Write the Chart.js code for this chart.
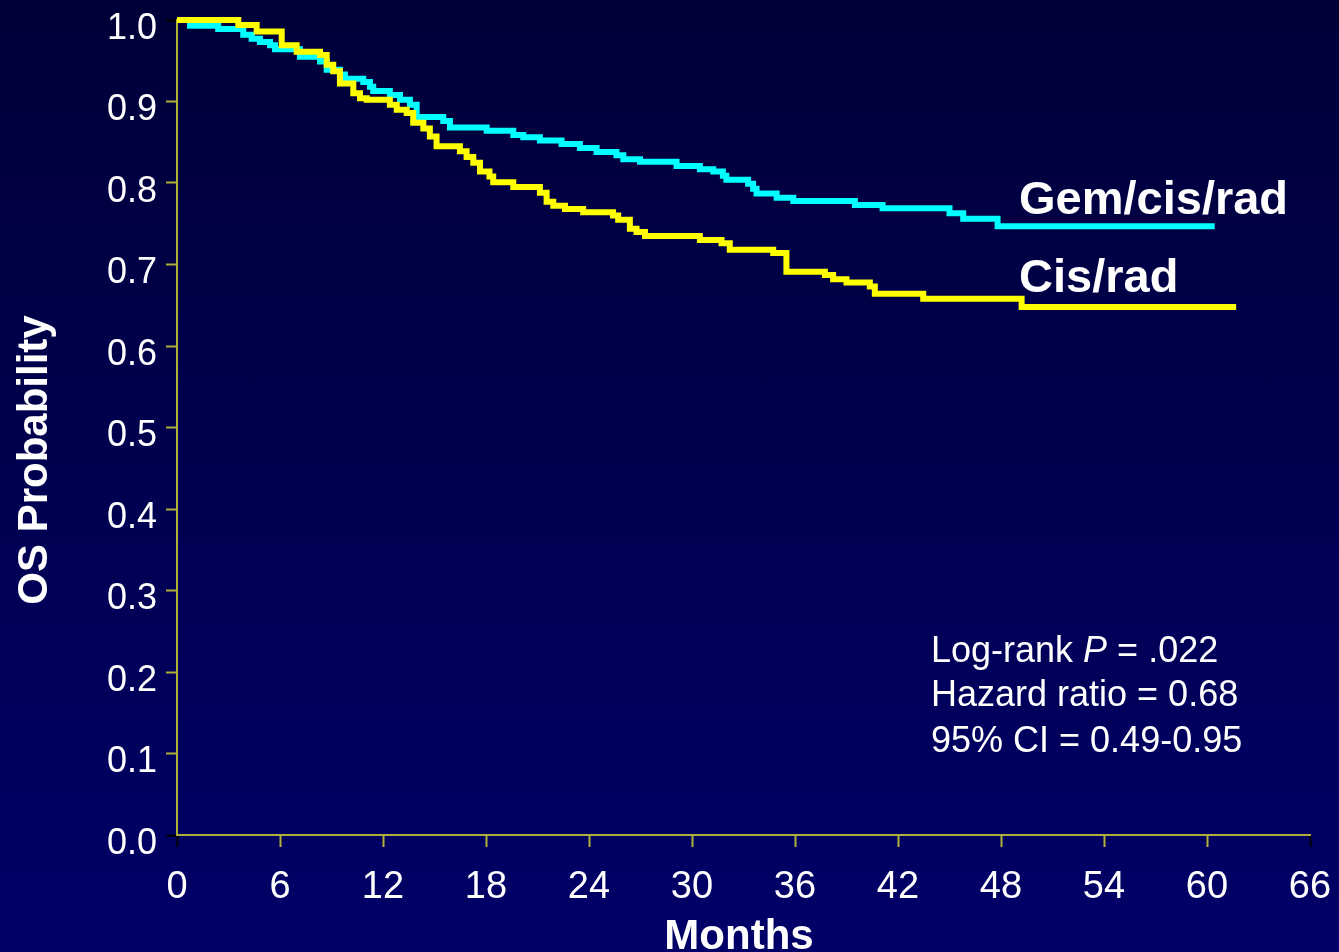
<!DOCTYPE html>
<html>
<head>
<meta charset="utf-8">
<script src="https://cdn.jsdelivr.net/npm/chart.js@4/dist/chart.umd.min.js"></script>
<style>
  html, body { margin: 0; padding: 0; }
  body { background: linear-gradient(to bottom, #000038, #000068); }
  #wrap { position: relative; width: 1339px; height: 952px; }
</style>
</head>
<body>
<div id="wrap"><canvas id="km-chart"></canvas></div>
<script>
// axis ticks
const xTicks = [0, 6, 12, 18, 24, 30, 36, 42, 48, 54, 60, 66]
const yTicks = [0, 0.1, 0.2, 0.3, 0.4, 0.5, 0.6, 0.7, 0.8, 0.9, 1.0]

// Gem/cis/rad arm: months and survival after each step
const gemMonths = [0, 0.76, 2.4, 3.86, 4.35, 4.83, 5.42, 5.71, 7.16, 8.33, 8.72, 9.49, 9.78, 10.85, 11.24, 11.43,
    12.4, 12.99, 13.57, 13.96, 15.51, 15.9, 18.04, 19.59, 20.17, 21.14, 22.4, 23.47, 24.44, 25.6, 26.0, 26.97,
    29.1, 30.46, 31.24, 31.8, 32.0, 33.27, 33.56, 33.76, 34.93, 35.9, 39.49, 41.1, 45.0, 45.8, 47.8, 60.45]
const gemSurv = [1.0, 0.993, 0.989, 0.982, 0.977, 0.973, 0.969, 0.964, 0.955, 0.949, 0.939, 0.933, 0.928, 0.924, 0.918, 0.913,
    0.908, 0.902, 0.896, 0.881, 0.876, 0.868, 0.864, 0.859, 0.856, 0.852, 0.848, 0.843, 0.838, 0.834, 0.829, 0.826,
    0.821, 0.817, 0.814, 0.809, 0.804, 0.799, 0.793, 0.787, 0.782, 0.778, 0.773, 0.769, 0.763, 0.756, 0.747, 0.747]

// Cis/rad arm
const cisMonths = [0, 3.57, 4.64, 6.1, 6.97, 8.33, 8.72, 9.1, 9.49, 10.27, 10.66, 11.05, 12.4, 12.8, 13.38, 13.76,
    14.35, 14.73, 15.12, 16.48, 16.87, 17.26, 17.65, 18.2, 18.42, 19.59, 21.14, 21.53, 21.92, 22.6, 23.66, 25.4,
    25.7, 26.38, 26.77, 27.26, 30.46, 31.72, 32.2, 34.73, 35.5, 37.74, 38.22, 39.0, 40.36, 40.65, 43.47, 49.2, 61.7]
const cisSurv = [1.0, 0.994, 0.986, 0.969, 0.961, 0.957, 0.945, 0.937, 0.922, 0.910, 0.904, 0.902, 0.896, 0.890, 0.886, 0.874,
    0.867, 0.857, 0.845, 0.839, 0.832, 0.825, 0.814, 0.808, 0.801, 0.795, 0.788, 0.777, 0.772, 0.768, 0.764, 0.760,
    0.755, 0.744, 0.740, 0.735, 0.730, 0.726, 0.718, 0.714, 0.691, 0.687, 0.682, 0.678, 0.673, 0.664, 0.658, 0.648, 0.648]

const statLines = ['Log-rank ', 'Hazard ratio = 0.68', '95% CI = 0.49-0.95']

function toPoints(months, surv) {
    return months.map((m, i) => ({ x: m, y: surv[i] }))
}

const FONT = '"Liberation Sans", Arial, sans-serif'
const AXIS = '#b0b038'

function tickColor(ctx) {
    const n = ctx.scale.ticks.length
    return (ctx.index === 0 || ctx.index === n - 1) ? '#000000' : AXIS
}

// titles and annotations drawn on top of the chart
const textPlugin = {
    id: 'texts',
    afterDraw(chart) {
        const ctx = chart.ctx
        ctx.save()
        ctx.fillStyle = '#ffffff'
        ctx.textBaseline = 'alphabetic'

        // axis titles
        ctx.font = 'bold 42px ' + FONT
        ctx.textAlign = 'center'
        ctx.fillText('Months', 739, 949)
        ctx.save()
        ctx.translate(47, 460)
        ctx.rotate(-Math.PI / 2)
        ctx.fillText('OS Probability', 0, 0)
        ctx.restore()

        // series labels
        ctx.textAlign = 'left'
        ctx.font = 'bold 47px ' + FONT
        ctx.fillText('Gem/cis/rad', 1019, 214)
        ctx.fillText('Cis/rad', 1019, 292)

        // stats
        ctx.font = '36px ' + FONT
        let x = 931
        ctx.fillText(statLines[0], x, 662)
        x += ctx.measureText(statLines[0]).width
        ctx.font = 'italic 36px ' + FONT
        ctx.fillText('P', x, 662)
        x += ctx.measureText('P').width
        ctx.font = '36px ' + FONT
        ctx.fillText(' = .022', x, 662)
        ctx.fillText(statLines[1], 931, 706)
        ctx.fillText(statLines[2], 931, 752)
        ctx.restore()
    }
}

new Chart(document.querySelector('#km-chart').getContext('2d'), {
    type: 'line',
    data: {
        datasets: [
            {
                label: 'Cis/rad',
                data: toPoints(cisMonths, cisSurv),
                borderColor: '#ffff00',
                borderWidth: 6,
                stepped: 'before',
                pointRadius: 0,
                clip: 8
            },
            {
                label: 'Gem/cis/rad',
                data: toPoints(gemMonths, gemSurv),
                borderColor: '#00ffff',
                borderWidth: 6,
                stepped: 'before',
                pointRadius: 0,
                clip: 8
            }
        ]
    },
    options: {
        responsive: true,
        maintainAspectRatio: false,
        animation: false,
        layout: { padding: 0 },
        plugins: { legend: { display: false }, tooltip: { enabled: false } },
        scales: {
            x: {
                type: 'linear',
                min: 0,
                max: 66,
                afterBuildTicks: scale => { scale.ticks = xTicks.map(v => ({ value: v })) },
                afterFit: scale => {
                    scale.height = 117
                    scale.paddingRight = 29
                },
                grid: { drawOnChartArea: false, drawTicks: true, tickLength: 12, tickWidth: 2, tickColor: tickColor },
                border: { color: AXIS, width: 2 },
                ticks: { color: '#ffffff', font: { family: FONT, size: 38 }, padding: 18, maxRotation: 0 }
            },
            y: {
                min: 0,
                max: 1,
                afterBuildTicks: scale => { scale.ticks = yTicks.map(v => ({ value: v })) },
                afterFit: scale => {
                    scale.width = 177
                    scale.paddingTop = 20
                },
                grid: { drawOnChartArea: false, drawTicks: true, tickLength: 11, tickWidth: 2, tickColor: tickColor },
                border: { color: AXIS, width: 2 },
                ticks: {
                    color: '#ffffff',
                    font: { family: FONT, size: 36 },
                    padding: 9,
                    labelOffset: 9,
                    callback: v => v.toFixed(1)
                }
            }
        }
    },
    plugins: [textPlugin]
})
</script>
</body>
</html>
